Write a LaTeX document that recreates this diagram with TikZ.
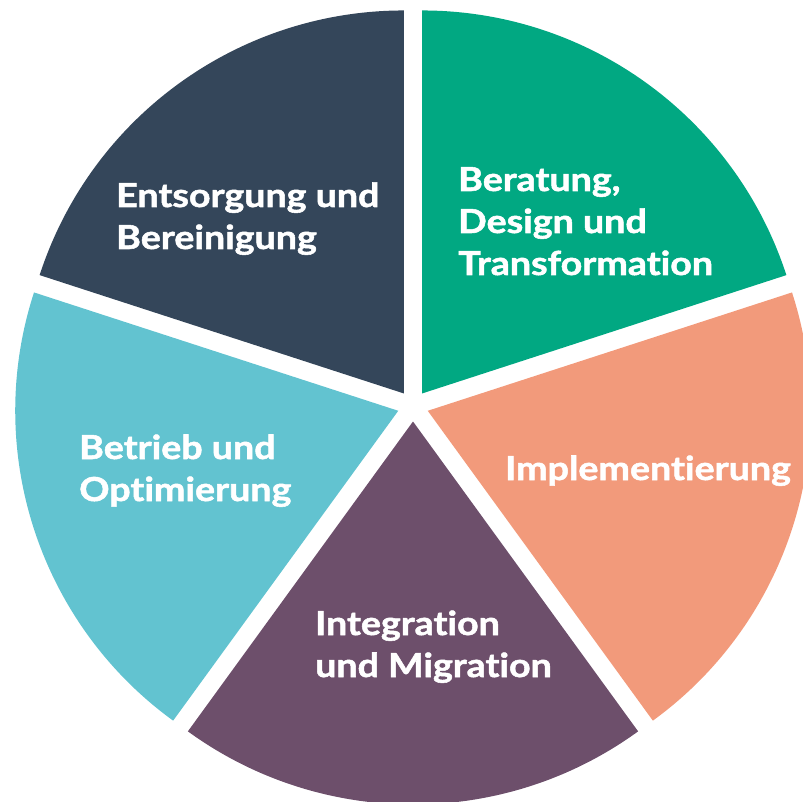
\documentclass[tikz,border=0pt]{standalone}
\usepackage{fontspec}
\setmainfont{Lato}[Ligatures={NoCommon,NoRare},FakeStretch=1.14,BoldFeatures={FakeBold=1.6}]
\usetikzlibrary{calc}
\definecolor{cgreen}{RGB}{1,168,130}
\definecolor{cdark}{RGB}{52,70,90}
\definecolor{ccyan}{RGB}{98,195,208}
\definecolor{cpurple}{RGB}{109,79,107}
\definecolor{corange}{RGB}{242,154,123}
\begin{document}
\begin{tikzpicture}[x=1pt,y=1pt,
  lbl/.style={anchor=base west,inner sep=0pt,text=white,align=left,
    font=\fontsize{33}{42}\selectfont\bfseries}]
\useasboundingbox (0,0) rectangle (803,-802);
\clip (0,0) rectangle (803,-802);
\coordinate (C) at (413,-406);
\def\R{383}
\def\d{15.5}
\foreach \s/\col/\nm in {18/cgreen/g,90/cdark/k,162/ccyan/c,234/cpurple/p,306/corange/o}{
  \coordinate (apex\nm) at ($(C)+(\s+36:\d)$);
  \fill[\col] (apex\nm) -- ++(\s:\R) arc[start angle=\s,end angle=\s+72,radius=\R] -- cycle;
}
% base anchor = baseline of last line
\node[lbl] (tk) at (116,-249) {Entsorgung und\\Bereinigung};
\node[lbl] (tg) at (458,-275) {Beratung,\\Design und\\Transformation};
\node[lbl] (to) at (505,-480) {Implementierung};
\node[lbl] (tc) at (79,-501) {Betrieb und\\Optimierung};
\node[lbl] (tp) at (315,-677) {Integration\\und Migration};
\end{tikzpicture}
\end{document}
